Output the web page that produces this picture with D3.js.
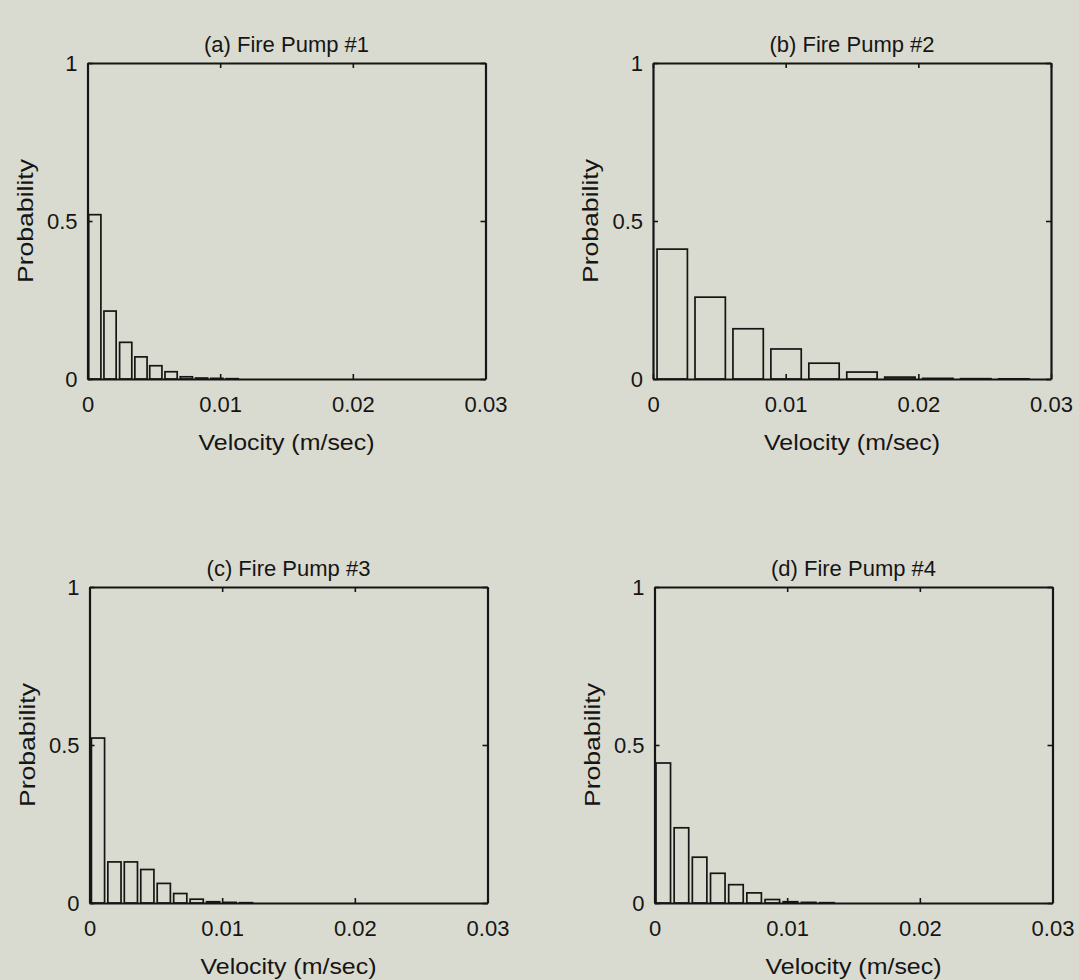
<!DOCTYPE html>
<html>
<head>
<meta charset="utf-8">
<script src="https://cdn.jsdelivr.net/npm/d3@7"></script>
<style>
  html, body { margin: 0; padding: 0; background: #dadbd0; }
  svg { display: block; }
  text { font-family: "Liberation Sans", Arial, Helvetica, sans-serif; fill: #151515; }
</style>
</head>
<body>
<svg id="chart" width="1079" height="980"></svg>
<script>
// ---- data ----
const titles = ["(a) Fire Pump #1", "(b) Fire Pump #2", "(c) Fire Pump #3", "(d) Fire Pump #4"];
const xTicks = [0, 0.01, 0.02, 0.03];
const xTickLabels = ["0", "0.01", "0.02", "0.03"];
const yTicks = [0, 0.5, 1];
const yTickLabels = ["0", "0.5", "1"];
const xLabel = "Velocity (m/sec)";
const yLabel = "Probability";

// bin centres (m/sec) and probabilities for each pump
const pump1Centers = [0.00055, 0.0017, 0.00288, 0.00403, 0.00515, 0.0063, 0.00745, 0.0086, 0.00975, 0.0109];
const pump1Prob    = [0.52, 0.215, 0.116, 0.07, 0.042, 0.023, 0.007, 0.003, 0.002, 0.001];
const pump1BinWidth = 0.00115;

const pump2Centers = [0.00145, 0.00431, 0.00717, 0.01003, 0.01289, 0.01575, 0.01861, 0.02147, 0.02433, 0.02719];
const pump2Prob    = [0.411, 0.259, 0.159, 0.095, 0.05, 0.022, 0.006, 0.002, 0.001, 0.0005];
const pump2BinWidth = 0.00286;

const pump3Centers = [0.00064, 0.00188, 0.00312, 0.00436, 0.0056, 0.00684, 0.00808, 0.00932, 0.01056, 0.0118];
const pump3Prob    = [0.522, 0.13, 0.13, 0.106, 0.062, 0.03, 0.012, 0.004, 0.002, 0.001];
const pump3BinWidth = 0.00124;

const pump4Centers = [0.00066, 0.00203, 0.0034, 0.00477, 0.00614, 0.00751, 0.00888, 0.01025, 0.01162, 0.01299];
const pump4Prob    = [0.443, 0.238, 0.145, 0.094, 0.058, 0.032, 0.011, 0.004, 0.002, 0.001];
const pump4BinWidth = 0.00137;

const panels = [
  { title: titles[0], centers: pump1Centers, prob: pump1Prob, bw: pump1BinWidth, left: 87.5, top: 63 },
  { title: titles[1], centers: pump2Centers, prob: pump2Prob, bw: pump2BinWidth, left: 653,  top: 63 },
  { title: titles[2], centers: pump3Centers, prob: pump3Prob, bw: pump3BinWidth, left: 89.5, top: 587 },
  { title: titles[3], centers: pump4Centers, prob: pump4Prob, bw: pump4BinWidth, left: 654.5, top: 587 }
];
const W = 398, H = 316;
const tickLen = 5;
const fs = 22;
const tickFs = 22;

const svg = d3.select("#chart");

panels.forEach(p => {
  const g = svg.append("g").attr("transform", `translate(${p.left},${p.top})`);
  const x = d3.scaleLinear().domain([0, 0.03]).range([0, W]);
  const y = d3.scaleLinear().domain([0, 1]).range([H, 0]);

  // bars
  g.selectAll("rect.bar").data(p.centers.map((c, i) => ({ c, v: p.prob[i] })))
    .enter().append("rect")
    .attr("class", "bar")
    .attr("x", d => x(d.c - 0.4 * p.bw))
    .attr("width", d => x(d.c + 0.4 * p.bw) - x(d.c - 0.4 * p.bw))
    .attr("y", d => y(d.v))
    .attr("height", d => y(0) - y(d.v))
    .attr("fill", "none")
    .attr("stroke", "#151515")
    .attr("stroke-width", 1.7);

  // axes: bottom, top, left, right (inward ticks)
  const bottom = d3.axisBottom(x).tickValues(xTicks).tickSizeInner(-tickLen).tickSizeOuter(0).tickFormat((d, i) => xTickLabels[i]).tickPadding(17);
  const top = d3.axisTop(x).tickValues(xTicks).tickSizeInner(-tickLen).tickSizeOuter(0).tickFormat("");
  const leftA = d3.axisLeft(y).tickValues(yTicks).tickSizeInner(-tickLen).tickSizeOuter(0).tickFormat((d, i) => yTickLabels[i]).tickPadding(10);
  const rightA = d3.axisRight(y).tickValues(yTicks).tickSizeInner(-tickLen).tickSizeOuter(0).tickFormat("");

  const styleAxis = sel => {
    sel.select(".domain").attr("stroke", "#151515").attr("stroke-width", 2.2);
    sel.selectAll(".tick line").attr("stroke", "#151515").attr("stroke-width", 1.6);
    sel.selectAll(".tick text").attr("font-size", tickFs).attr("fill", "#151515")
      .attr("font-family", '"Liberation Sans", Arial, sans-serif');
  };

  g.append("g").attr("transform", `translate(0,${H})`).call(bottom).call(styleAxis);
  g.append("g").call(top).call(styleAxis);
  g.append("g").call(leftA).call(styleAxis);
  g.append("g").attr("transform", `translate(${W},0)`).call(rightA).call(styleAxis);

  // title
  g.append("text").attr("x", W / 2).attr("y", -11)
    .attr("text-anchor", "middle").attr("font-size", fs).text(p.title);

  // x label
  g.append("text").attr("x", W / 2).attr("y", H + 71)
    .attr("text-anchor", "middle").attr("font-size", 22)
    .attr("textLength", 176).attr("lengthAdjust", "spacingAndGlyphs")
    .text(xLabel);

  // y label
  g.append("text").attr("transform", `translate(-55,${H / 2}) rotate(-90)`)
    .attr("text-anchor", "middle").attr("font-size", 22)
    .attr("textLength", 124).attr("lengthAdjust", "spacingAndGlyphs")
    .text(yLabel);
});
</script>
</body>
</html>
